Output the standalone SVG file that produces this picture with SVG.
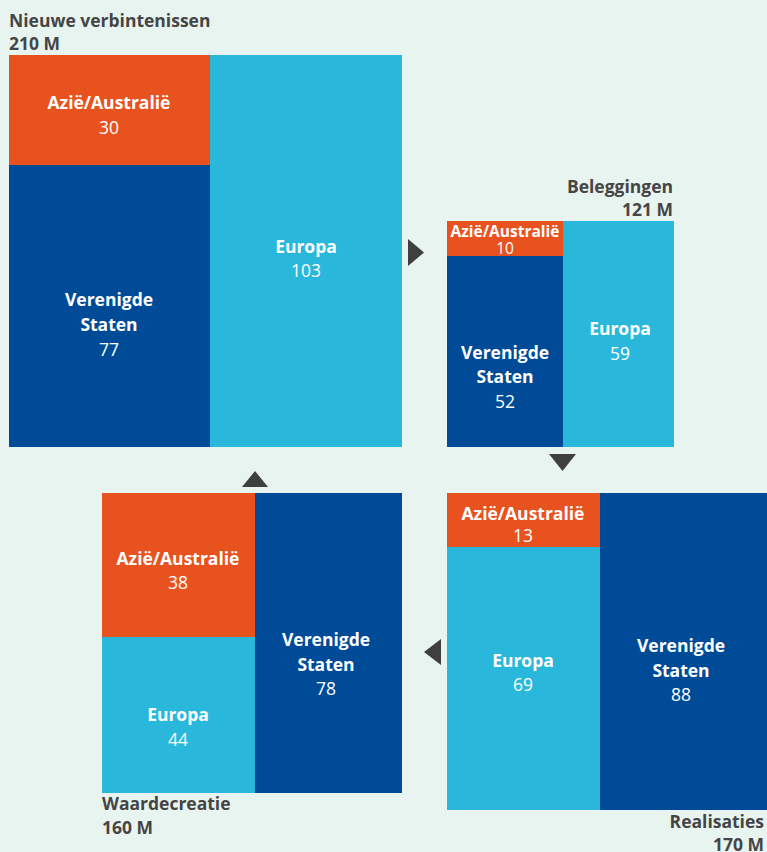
<svg xmlns="http://www.w3.org/2000/svg" width="767" height="852" viewBox="0 0 767 852">
<style>
.bg{fill:#e8f4f0}
.or{fill:#e8521e}
.db{fill:#004b97}
.lb{fill:#29b8db}
.t{font-family:"Open Sans","Noto Sans",sans-serif;font-weight:700;font-size:17.5px;fill:#454545}
.l{font-family:"Open Sans","Noto Sans",sans-serif;font-weight:700;font-size:17.5px;fill:#fff;text-anchor:middle}
.n{font-family:"Open Sans","Noto Sans",sans-serif;font-weight:400;font-size:17.5px;fill:#fff;text-anchor:middle}
.s{font-size:15.5px}
.arr{fill:#3f3f3f}
</style>
<rect class="bg" x="0" y="0" width="767" height="852"/>
<g id="nieuwe">
<text class="t" x="9" y="27">Nieuwe verbintenissen</text>
<text class="t" x="9" y="50">210 M</text>
<rect class="or" x="9" y="55" width="201" height="110"/>
<rect class="db" x="9" y="165" width="201" height="282"/>
<rect class="lb" x="210" y="55" width="192" height="392"/>
<text class="l" x="109" y="109">Azië/Australië</text>
<text class="n" x="109" y="134">30</text>
<text class="l" x="109" y="306">Verenigde</text>
<text class="l" x="109" y="331">Staten</text>
<text class="n" x="109" y="356">77</text>
<text class="l" x="306" y="253">Europa</text>
<text class="n" x="306" y="277">103</text>
</g>
<g id="beleggingen">
<text class="t" x="673" y="193" text-anchor="end">Beleggingen</text>
<text class="t" x="673" y="216" text-anchor="end">121 M</text>
<rect class="or" x="447" y="221" width="116" height="35"/>
<rect class="db" x="447" y="256" width="116" height="191"/>
<rect class="lb" x="563" y="221" width="111" height="226"/>
<text class="l s" x="505" y="237">Azië/Australië</text>
<text class="n s" x="505" y="254">10</text>
<text class="l" x="505" y="359">Verenigde</text>
<text class="l" x="505" y="383">Staten</text>
<text class="n" x="505" y="408">52</text>
<text class="l" x="620" y="335">Europa</text>
<text class="n" x="620" y="360">59</text>
</g>
<g id="realisaties">
<rect class="or" x="447" y="493" width="153" height="54"/>
<rect class="lb" x="447" y="547" width="153" height="263"/>
<rect class="db" x="600" y="493" width="167" height="317"/>
<text class="l" x="523" y="520">Azië/Australië</text>
<text class="n" x="523" y="542">13</text>
<text class="l" x="523" y="667">Europa</text>
<text class="n" x="523" y="691">69</text>
<text class="l" x="681" y="652">Verenigde</text>
<text class="l" x="681" y="677">Staten</text>
<text class="n" x="681" y="701">88</text>
<text class="t" x="764" y="828" text-anchor="end">Realisaties</text>
<text class="t" x="764" y="851" text-anchor="end">170 M</text>
</g>
<g id="waardecreatie">
<rect class="or" x="102" y="493" width="153" height="144"/>
<rect class="lb" x="102" y="637" width="153" height="156"/>
<rect class="db" x="255" y="493" width="147" height="300"/>
<text class="l" x="178" y="565">Azië/Australië</text>
<text class="n" x="178" y="589">38</text>
<text class="l" x="178" y="721">Europa</text>
<text class="n" x="178" y="746">44</text>
<text class="l" x="326" y="646">Verenigde</text>
<text class="l" x="326" y="671">Staten</text>
<text class="n" x="326" y="695">78</text>
<text class="t" x="102" y="810">Waardecreatie</text>
<text class="t" x="102" y="834">160 M</text>
</g>
<g id="connectors">
<polygon class="arr" points="408,239 424,252.5 408,266"/>
<polygon class="arr" points="549,454 576,454 562.5,471"/>
<polygon class="arr" points="424,652 441,639 441,665"/>
<polygon class="arr" points="242,487 268,487 255,471"/>
</g>
</svg>
